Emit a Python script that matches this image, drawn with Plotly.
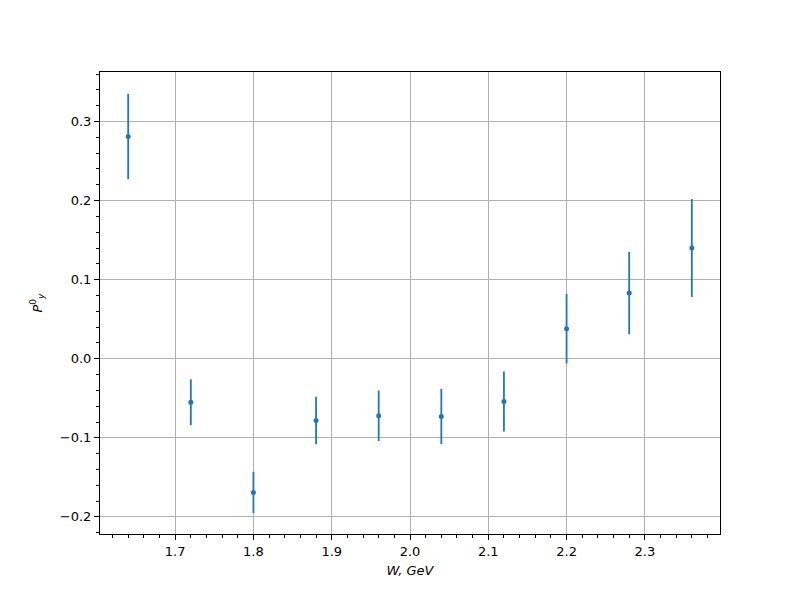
import plotly.graph_objects as go

W_values = [1.64, 1.72, 1.80, 1.88, 1.96, 2.04, 2.12, 2.20, 2.28, 2.36]
P_values = [0.281, -0.055, -0.169, -0.078, -0.072, -0.073, -0.054, 0.038, 0.083, 0.140]
P_errors = [0.054, 0.029, 0.026, 0.030, 0.032, 0.035, 0.038, 0.044, 0.052, 0.062]

x_tickvals = [1.7, 1.8, 1.9, 2.0, 2.1, 2.2, 2.3]
x_ticktext = ["1.7", "1.8", "1.9", "2.0", "2.1", "2.2", "2.3"]
y_tickvals = [-0.2, -0.1, 0.0, 0.1, 0.2, 0.3]
y_ticktext = ["\u22120.2", "\u22120.1", "0.0", "0.1", "0.2", "0.3"]

color = "#1f77b4"

fig = go.Figure()
fig.add_trace(go.Scatter(
    x=W_values, y=P_values, mode="markers",
    marker=dict(color=color, size=5),
    error_y=dict(type="data", array=P_errors, visible=True,
                 color=color, thickness=1.8, width=0),
    showlegend=False,
))

axis_common = dict(
    showline=True, mirror=True, linecolor="black", linewidth=1,
    showgrid=True, gridcolor="#b0b0b0", gridwidth=1,
    zeroline=False, ticks="outside", ticklen=5, tickwidth=1, tickcolor="black",
    tickfont=dict(family="DejaVu Sans", size=13, color="black"),
)

fig.update_xaxes(
    range=[1.604, 2.396], tickmode="array", tickvals=x_tickvals, ticktext=x_ticktext,
    minor=dict(dtick=0.02, tick0=1.6, ticks="outside", ticklen=3, tickwidth=1,
               tickcolor="black", showgrid=False),
    title=dict(text="<i>W, GeV</i>", font=dict(family="DejaVu Sans", size=13, color="black"),
               standoff=8),
    **axis_common,
)
fig.update_yaxes(
    range=[-0.2216, 0.3626], tickmode="array", tickvals=y_tickvals, ticktext=y_ticktext,
    minor=dict(dtick=0.02, tick0=0.0, ticks="outside", ticklen=3, tickwidth=1,
               tickcolor="black", showgrid=False),
    title=dict(text="<i>P</i><sup>0</sup><sub><i>y</i></sub>",
               font=dict(family="DejaVu Sans", size=13, color="black"), standoff=14),
    **axis_common,
)

fig.update_layout(
    width=800, height=600,
    margin=dict(l=92, r=88, t=64, b=74),
    plot_bgcolor="white", paper_bgcolor="white",
    font=dict(family="DejaVu Sans", size=13, color="black"),
)

fig.write_html("out.html")
